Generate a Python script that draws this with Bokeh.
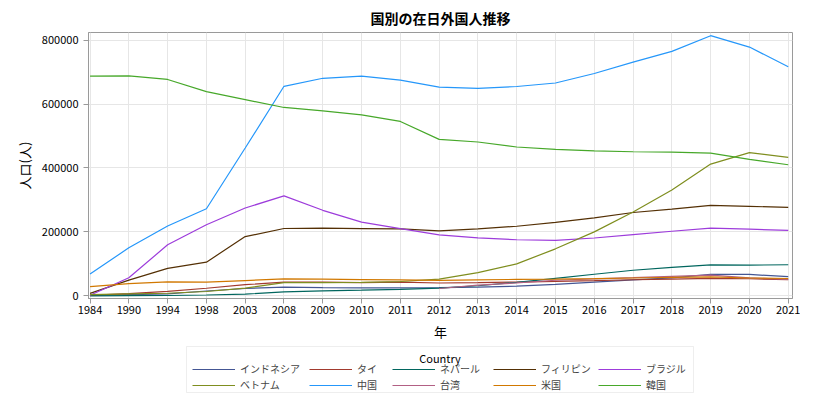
from bokeh.plotting import figure
from bokeh.layouts import column
from bokeh.models import (Legend, LegendItem, FixedTicker, Range1d,
                          BasicTickFormatter, Label, BoxAnnotation)
from bokeh.embed import file_html
from bokeh.resources import INLINE

nan = float("nan")

years = ["1984", "1990", "1994", "1998", "2003", "2008", "2009", "2010", "2011",
         "2012", "2013", "2014", "2015", "2016", "2017", "2018", "2019", "2020", "2021"]

indonesia = [1200, 3600, 6300, 15000, 22900, 27300, 25500, 24900, 24700, 25500,
             27200, 30200, 35900, 42900, 50000, 56300, 66900, 66800, 59800]
thailand = [1500, 6700, 14000, 23600, 34800, 42600, 42700, 41300, 42800, 40100,
            41200, 43100, 45400, 47600, 50200, 52300, 54800, 53400, 50300]
nepal = [100, 450, 1000, 2500, 5200, 12300, 15300, 17500, 20400, 24100,
         31500, 42300, 54800, 67500, 80000, 88900, 96800, 96000, 97100]
philippines = [7500, 49100, 86000, 105300, 185200, 210600, 211700, 210200, 209400, 203000,
               209200, 217600, 229600, 243700, 260600, 271300, 282800, 279700, 276600]
brazil = [2000, 56400, 159600, 222200, 274700, 312600, 267500, 230600, 210000, 190600,
          181300, 175400, 173400, 180900, 191400, 201900, 211700, 208500, 204900]
vietnam = [4000, 6200, 8000, 13500, 23900, 41100, 41000, 41800, 44700, 52400,
           72300, 99900, 147000, 200000, 262400, 330800, 412000, 448100, 432900]
china = [67900, 150300, 218600, 272200, 462400, 655400, 680500, 687200, 674900, 652600,
         649100, 654800, 665800, 695500, 730900, 764700, 813700, 778100, 716600]
taiwan = [nan, nan, nan, nan, nan, nan, nan, nan, nan, 22800,
          33300, 40200, 48700, 52800, 56700, 60700, 64800, 55900, 51200]
usa = [29000, 38400, 43300, 42800, 47800, 52700, 52100, 50700, 49800, 48400,
       50000, 51300, 52300, 53700, 55700, 57500, 59200, 55800, 54200]
korea = [687100, 687900, 676800, 638800, 613800, 589200, 578500, 566000, 545400, 489400,
         481200, 465500, 457800, 453100, 450700, 449600, 446400, 426900, 409900]

countries = ["インドネシア", "タイ", "ネパール", "フィリピン", "ブラジル",
             "ベトナム", "中国", "台湾", "米国", "韓国"]
series = [indonesia, thailand, nepal, philippines, brazil,
          vietnam, china, taiwan, usa, korea]
colors = ["#445694", "#A23A2E", "#01665E", "#543005", "#9D3CDB",
          "#7F8E1F", "#2597FA", "#B26084", "#D17800", "#47A82A"]
y_ticks = [0, 200000, 400000, 600000, 800000]

FONT = "Noto Sans CJK JP"
x = list(range(len(years)))

# ---------------- main chart ----------------
p = figure(width=800, height=343, output_backend="svg", toolbar_location=None,
           x_range=Range1d(-0.04, len(years) - 1 + 0.11),
           y_range=Range1d(-8400, 823700),
           min_border_left=88, min_border_right=8, min_border_top=31,
           min_border_bottom=45,
           title="国別の在日外国人推移")

p.title.align = "center"
p.title.text_font = FONT
p.title.text_font_size = "14px"
p.title.text_font_style = "bold"
p.title.text_color = "#000000"

p.outline_line_color = "#9a9a9a"
p.outline_line_width = 1
p.background_fill_color = "white"
p.border_fill_color = "white"

p.xaxis.ticker = FixedTicker(ticks=x)
p.xgrid.ticker = FixedTicker(ticks=x)
p.xaxis.major_label_overrides = {i: years[i] for i in x}
p.yaxis.ticker = FixedTicker(ticks=y_ticks)
p.ygrid.ticker = FixedTicker(ticks=y_ticks)
p.yaxis.formatter = BasicTickFormatter(use_scientific=False)

for ax in (p.xaxis, p.yaxis):
    ax.axis_line_color = "#9a9a9a"
    ax.major_tick_line_color = "#9a9a9a"
    ax.major_tick_out = 5
    ax.major_tick_in = 0
    ax.minor_tick_line_color = None
    ax.major_label_text_font = FONT
    ax.major_label_text_font_size = "11px"
    ax.major_label_text_color = "#000000"
    ax.axis_label_text_font = FONT
    ax.axis_label_text_font_size = "13px"
    ax.axis_label_text_font_style = "normal"
    ax.axis_label_text_color = "#000000"

p.xaxis.major_label_standoff = 2
p.yaxis.major_label_standoff = 5
p.xaxis.axis_label = "年"
p.yaxis.axis_label = "人口(人)"
p.xaxis.axis_label_standoff = 5
p.yaxis.axis_label_standoff = 5

p.xgrid.grid_line_color = "#e6e6e6"
p.ygrid.grid_line_color = "#e6e6e6"

for name, vals, c in zip(countries, series, colors):
    p.line(x, vals, line_color=c, line_width=1.2)

# ---------------- legend panel (coordinates = page pixels) ----------------
lg = figure(width=800, height=57, output_backend="svg", toolbar_location=None,
            x_range=Range1d(88, 792), y_range=Range1d(400, 343),
            x_axis_type=None, y_axis_type=None,
            min_border_left=88, min_border_right=8, min_border_top=0,
            min_border_bottom=0)
lg.outline_line_color = None
lg.border_fill_color = "white"
lg.background_fill_color = "white"

lg.add_layout(BoxAnnotation(left=186, right=693, top=346, bottom=392,
                            fill_alpha=0, line_color="#c8c8c8", line_width=1))

# legend key proxies (kept outside the visible range of this panel)
proxies = []
for name, c in zip(countries, colors):
    proxies.append(lg.line(x=[0, 1], y=[0, 0], line_color=c, line_width=1.2))

col_x = [104, 221, 304, 405, 510]   # left offsets of the five legend columns
for k, off in enumerate(col_x):
    its = [LegendItem(label=countries[k], renderers=[proxies[k]]),
           LegendItem(label=countries[k + 5], renderers=[proxies[k + 5]])]
    lg.add_layout(Legend(items=its, orientation="vertical",
                         location=(off, 8),
                         label_text_font=FONT, label_text_font_size="10px",
                         glyph_width=43, glyph_height=12, label_height=12,
                         label_standoff=5, spacing=1, padding=0, margin=0,
                         border_line_color=None, background_fill_alpha=0),
                  "center")

lg.add_layout(Label(x=439.5, y=357, text="Country", text_align="center",
                    text_baseline="middle", text_font=FONT,
                    text_font_size="11px", text_color="#000000"))

layout = column(p, lg, spacing=0)
open("out.html", "w").write(file_html(layout, INLINE))
